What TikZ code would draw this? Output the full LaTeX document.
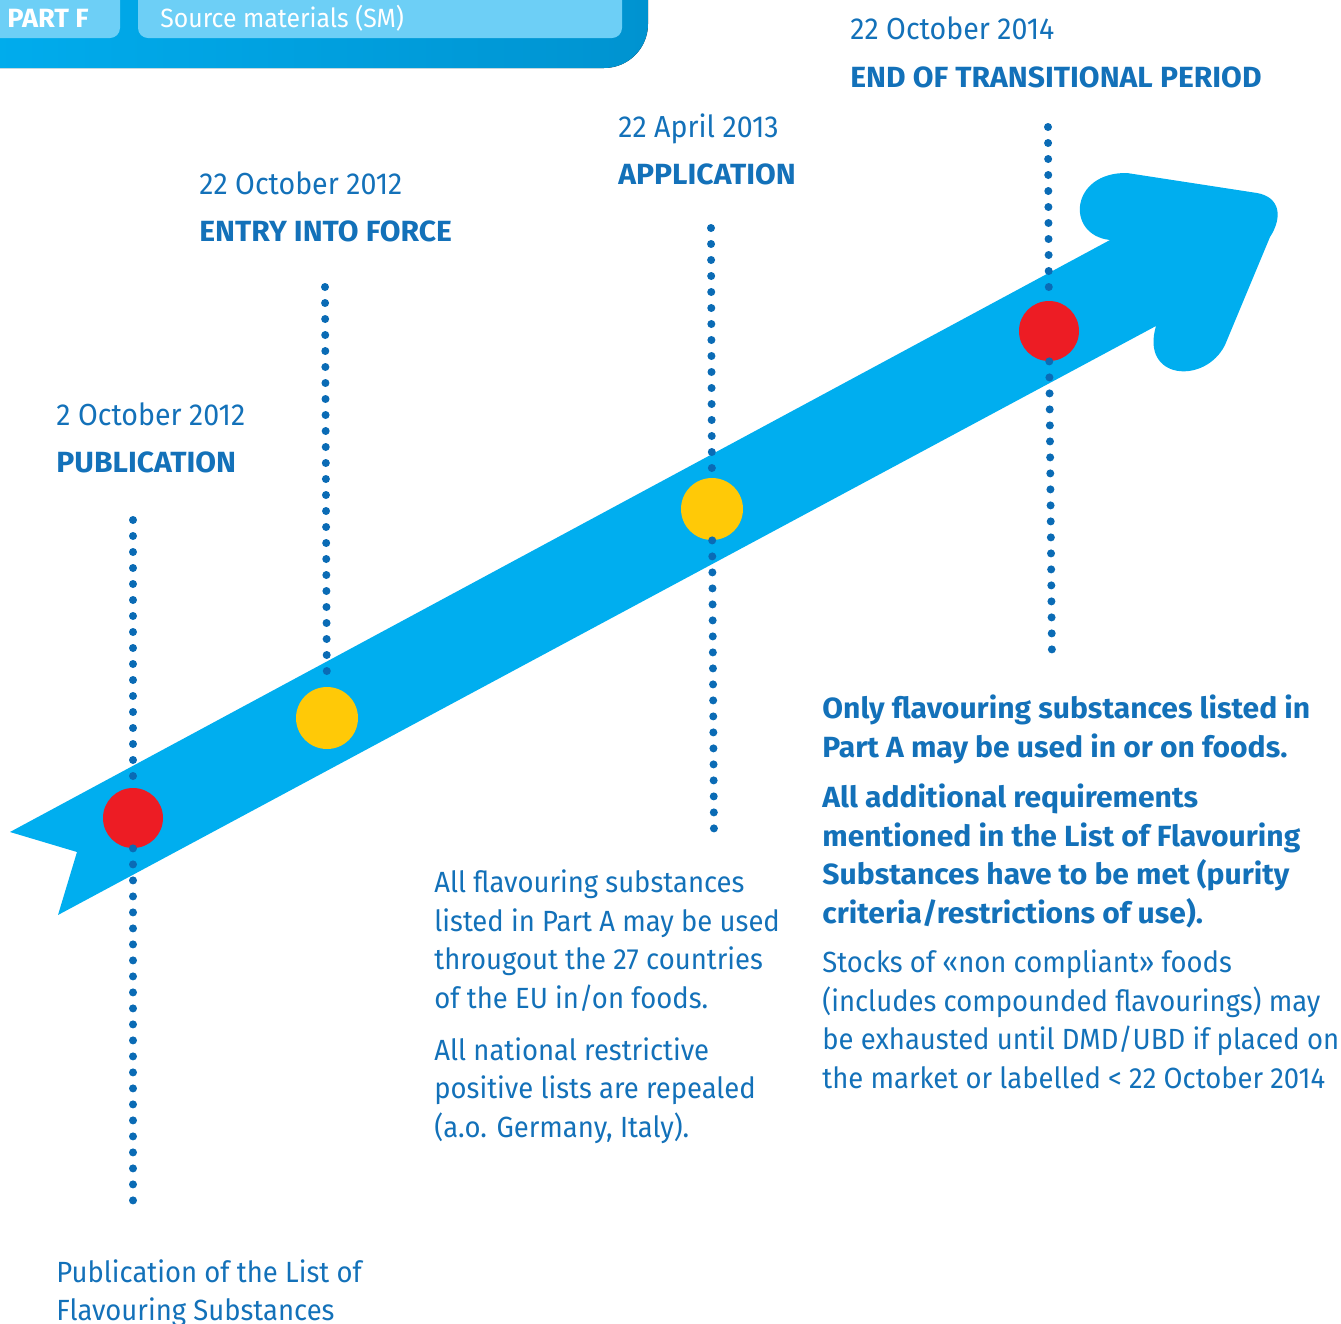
\documentclass[tikz,border=0pt]{standalone}
\usepackage{fontspec}
\setmainfont[FakeStretch=0.94, BoldFeatures={FakeStretch=1.03}]{Fira Sans}
\usetikzlibrary{positioning}

\definecolor{arrowblue}{HTML}{00AEEF}
\definecolor{barblue}{HTML}{0093D0}
\definecolor{tabblue}{HTML}{6DCFF6}
\definecolor{textblue}{HTML}{1371B9}
\definecolor{dotblue}{HTML}{0A6BB5}
\definecolor{milered}{HTML}{ED1C24}
\definecolor{mileyellow}{HTML}{FFC907}

\newcommand{\headfont}{\fontsize{13.2}{16}\selectfont}
\newcommand{\datefont}{\fontsize{15.2}{19}\selectfont}
\newcommand{\bodyfont}{\fontsize{14.6}{19.25}\selectfont}

\tikzset{
  datelabel/.style={anchor=base west, inner sep=0pt, text=textblue, font=\datefont},
  titlelabel/.style={anchor=base west, inner sep=0pt, text=textblue, font=\bodyfont\bfseries},
  bodytext/.style={anchor=base west, inner sep=0pt, align=left, text=textblue, font=\bodyfont},
  milestone/.style={circle, inner sep=0pt, minimum size=#1},
  dotline/.style={dotblue, line width=4pt, line cap=round, dash pattern=on 0pt off 8pt},
}

\begin{document}
\begin{tikzpicture}[x=0.5pt,y=-0.5pt]
\useasboundingbox (0,0) rectangle (1341,1324);
\clip (0,0) rectangle (1341,1324);
% header bar
\fill[left color=arrowblue, right color=barblue, rounded corners=22pt] (-60,-60) rectangle (648,68);
\fill[tabblue, rounded corners=5pt] (-20,-20) rectangle (120,38);
\fill[tabblue, rounded corners=5pt] (138,-20) rectangle (622,38);
\node[anchor=base west, inner sep=0pt, text=white, font=\headfont\bfseries] (partf) at (7,27) {PART F};
\node[anchor=base west, inner sep=0pt, text=white, font=\headfont] (source) at (160,27) {Source materials (SM)};

% the arrow
\fill[arrowblue] (10,832) -- (1110,240)
  .. controls (1065,235) and (1070,172) .. (1127,173) -- (1257,193)
  .. controls (1280,197) and (1283,217) .. (1270,237) -- (1225,345)
  .. controls (1205,385) and (1140,380) .. (1156,326)
  -- (58,915) -- (77,852) -- cycle;

% milestones
\node[milestone=30pt, fill=milered] (pub) at (133,818) {};
\node[milestone=31pt, fill=mileyellow] (force) at (327,718) {};
\node[milestone=31pt, fill=mileyellow] (app) at (712,509) {};
\node[milestone=30pt, fill=milered] (endp) at (1049,331) {};

\coordinate (pubtop) at (133,520);
\coordinate (pubbottom) at (133,1212);
\coordinate (forcetop) at (325,287);
\coordinate (apptop) at (711,228);
\coordinate (appbottom) at (714,840);
\coordinate (endtop) at (1048,127);
\coordinate (endbottom) at (1052,662);

\draw[dotline] (pubtop) -- (pub);
\draw[dotline] (pub) -- (pubbottom);
\draw[dotline] (forcetop) -- (force);
\draw[dotline] (apptop) -- (app);
\draw[dotline] (app) -- (appbottom);
\draw[dotline] (endtop) -- (endp);
\draw[dotline] (endp) -- (endbottom);

% dates and titles
\node[datelabel] (pubdate) at (56,425) {2 October 2012};
\node[titlelabel] (pubtitle) at (56,472) {PUBLICATION};
\node[datelabel] (forcedate) at (199,194) {22 October 2012};
\node[titlelabel] (forcetitle) at (199,241) {ENTRY INTO FORCE};
\node[datelabel] (appdate) at (618,137) {22 April 2013};
\node[titlelabel] (apptitle) at (618,184) {APPLICATION};
\node[datelabel] (enddate) at (850,39) {22 October 2014};
\node[titlelabel] (endtitle) at (850,87) {END OF TRANSITIONAL PERIOD};

% texts (anchored at the baseline of their last line)
\node[bodytext, font=\fontsize{14.6}{19}\selectfont] (pubnote) at (56,1320) {Publication of the List of\\Flavouring Substances};
\node[bodytext] (appnote) at (434,1008) {All flavouring substances\\listed in Part A may be used\\througout the 27 countries\\of the EU in/on foods.};
\node[bodytext] (appnote2) at (434,1137) {All national restrictive\\positive lists are repealed\\(a.o. Germany, Italy).};
\node[bodytext, font=\bodyfont\bfseries] (endnote) at (822,757) {Only flavouring substances listed in\\Part A may be used in or on foods.};
\node[bodytext, font=\bodyfont\bfseries] (endnote2) at (822,923) {All additional requirements\\mentioned in the List of Flavouring\\Substances have to be met (purity\\criteria/restrictions of use).};
\node[bodytext] (endnote3) at (822,1088) {Stocks of «non compliant» foods\\(includes compounded flavourings) may\\be exhausted until DMD/UBD if placed on\\the market or labelled < 22 October 2014};
\end{tikzpicture}
\end{document}
